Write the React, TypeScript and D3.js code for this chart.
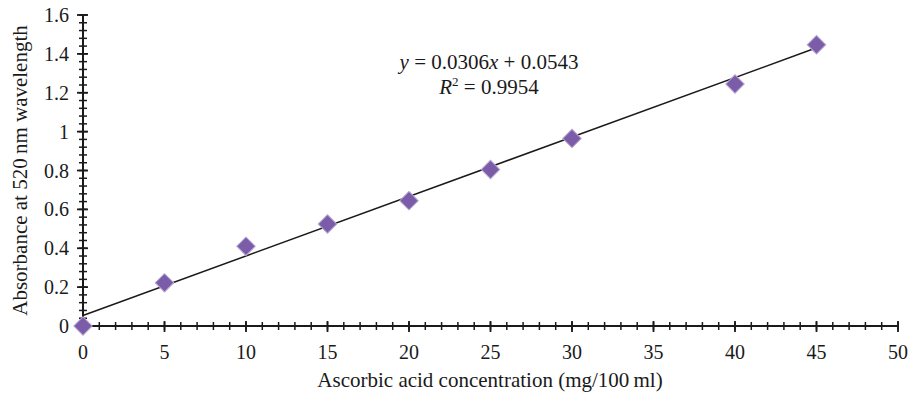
import React, { useRef, useEffect } from 'react';
import * as d3 from 'd3';

const concentration = [0, 5, 10, 15, 20, 25, 30, 40, 45];
const absorbance = [0, 0.222, 0.41, 0.525, 0.645, 0.805, 0.965, 1.245, 1.447];
const slope = 0.0306;
const intercept = 0.0543;
const xMajorTicks = [0, 5, 10, 15, 20, 25, 30, 35, 40, 45, 50];
const yMajorTicks = [0, 0.2, 0.4, 0.6, 0.8, 1, 1.2, 1.4, 1.6];

const FONT = '"Liberation Serif", "DejaVu Serif", serif';

const App: React.FC = () => {
    const svgRef = useRef<SVGSVGElement | null>(null);

    useEffect(() => {
        if (!svgRef.current) return;
        const svg = d3.select(svgRef.current);
        const width = 908, height = 394;
        const margin = { top: 15, right: 10, bottom: 68, left: 83 };

        svg.attr('width', width).attr('height', height);
        svg.selectAll('*').remove();

        const x = d3.scaleLinear().domain([0, 50]).range([margin.left, width - margin.right]);
        const y = d3.scaleLinear().domain([0, 1.6]).range([height - margin.bottom, margin.top]);

        const axisColor = '#1a1a1a';
        const textColor = '#1a1a1a';

        // minor ticks
        const xMinor = d3.range(0, 50.001, 1);
        const yMinor = d3.range(0, 1.6001, 0.04);

        const g = svg.append('g');

        g.selectAll('line.xminor').data(xMinor).join('line')
            .attr('x1', d => x(d)).attr('x2', d => x(d))
            .attr('y1', y(0) - 4).attr('y2', y(0) + 4)
            .attr('stroke', axisColor).attr('stroke-width', 1.5);
        g.selectAll('line.xmajor').data(xMajorTicks).join('line')
            .attr('x1', d => x(d)).attr('x2', d => x(d))
            .attr('y1', y(0) - 5).attr('y2', y(0) + 6)
            .attr('stroke', axisColor).attr('stroke-width', 1.8);

        g.selectAll('line.yminor').data(yMinor).join('line')
            .attr('x1', x(0) - 4).attr('x2', x(0) + 4)
            .attr('y1', d => y(d)).attr('y2', d => y(d))
            .attr('stroke', axisColor).attr('stroke-width', 1.5);
        g.selectAll('line.ymajor').data(yMajorTicks).join('line')
            .attr('x1', x(0) - 6).attr('x2', x(0) + 5)
            .attr('y1', d => y(d)).attr('y2', d => y(d))
            .attr('stroke', axisColor).attr('stroke-width', 1.8);

        // axis lines
        g.append('line')
            .attr('x1', x(0)).attr('x2', x(50)).attr('y1', y(0)).attr('y2', y(0))
            .attr('stroke', axisColor).attr('stroke-width', 2);
        g.append('line')
            .attr('x1', x(0)).attr('x2', x(0)).attr('y1', y(0)).attr('y2', y(1.6))
            .attr('stroke', axisColor).attr('stroke-width', 2);

        // tick labels
        g.selectAll('text.xt').data(xMajorTicks).join('text')
            .attr('x', d => x(d)).attr('y', y(0) + 33)
            .attr('text-anchor', 'middle')
            .attr('font-family', FONT).attr('font-size', 20).attr('fill', textColor)
            .text(d => d);
        g.selectAll('text.yt').data(yMajorTicks).join('text')
            .attr('x', x(0) - 14).attr('y', d => y(d)).attr('dy', '0.35em')
            .attr('text-anchor', 'end')
            .attr('font-family', FONT).attr('font-size', 20).attr('fill', textColor)
            .text(d => d);

        // axis titles
        svg.append('text')
            .attr('x', 490).attr('y', 387)
            .attr('text-anchor', 'middle')
            .attr('font-family', FONT).attr('font-size', 21).attr('fill', textColor)
            .text('Ascorbic acid concentration (mg/100\u2009ml)');
        svg.append('text')
            .attr('transform', `translate(27,${(y(0) + y(1.6)) / 2}) rotate(-90)`)
            .attr('text-anchor', 'middle')
            .attr('font-family', FONT).attr('font-size', 21).attr('fill', textColor)
            .text('Absorbance at 520\u2009nm wavelength');

        // trend line
        const fitX = [0, d3.max(concentration) as number];
        const line = d3.line<number>().x(d => x(d)).y(d => y(slope * d + intercept));
        svg.append('path')
            .attr('d', line(fitX))
            .attr('fill', 'none').attr('stroke', '#1a1a1a').attr('stroke-width', 1.5);

        // markers
        const points = concentration.map((c, i) => ({ c, a: absorbance[i] }));
        svg.selectAll('path.pt').data(points).join('path')
            .attr('d', d3.symbol(d3.symbolSquare, 170)())
            .attr('transform', d => `translate(${x(d.c)},${y(d.a)}) rotate(45)`)
            .attr('fill', '#7b5ca8')
            .attr('stroke', '#b4a3d1').attr('stroke-width', 1);

        // equation
        const eq = svg.append('text')
            .attr('x', 489).attr('y', 69)
            .attr('text-anchor', 'middle')
            .attr('font-family', FONT).attr('font-size', 21).attr('fill', textColor);
        eq.append('tspan').attr('font-style', 'italic').text('y');
        eq.append('tspan').text(' = 0.0306');
        eq.append('tspan').attr('font-style', 'italic').text('x');
        eq.append('tspan').text(' + 0.0543');

        const r2 = svg.append('text')
            .attr('x', 489).attr('y', 94)
            .attr('text-anchor', 'middle')
            .attr('font-family', FONT).attr('font-size', 21).attr('fill', textColor);
        r2.append('tspan').attr('font-style', 'italic').text('R');
        r2.append('tspan').attr('font-size', 13).attr('dy', -8).text('2');
        r2.append('tspan').attr('dy', 8).text(' = 0.9954');
    }, []);

    return <svg ref={svgRef} style={{ position: 'absolute', left: 0, top: 0 }}></svg>;
};

export default App;
